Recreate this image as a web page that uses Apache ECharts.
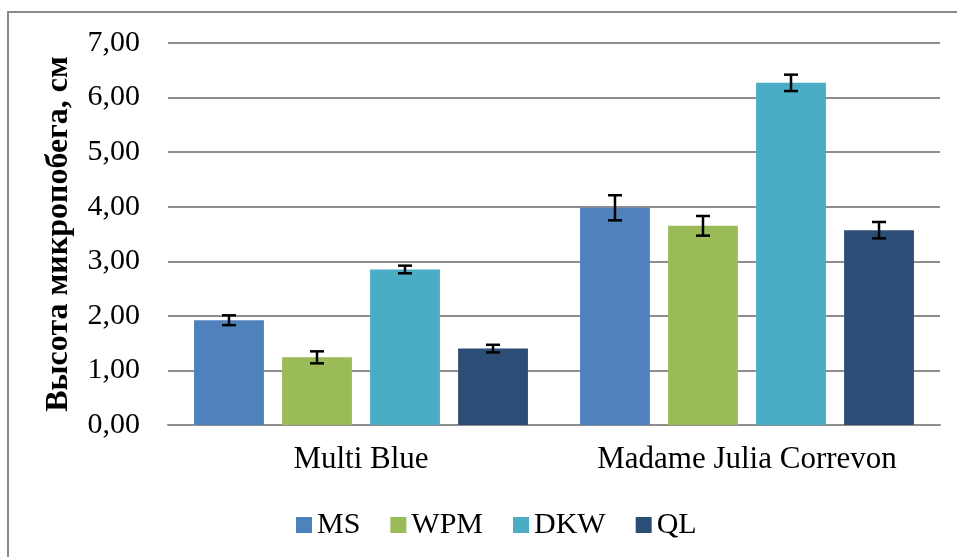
<!DOCTYPE html>
<html>
<head>
<meta charset="utf-8">
<script src="https://cdn.jsdelivr.net/npm/echarts@6/dist/echarts.min.js"></script>
<style>
html,body{margin:0;padding:0;background:#fff;}
#c{width:957px;height:557px;}
</style>
</head>
<body>
<div id="c"></div>
<script>
var categories = ['Multi Blue', 'Madame Julia Correvon'];
var seriesNames = ['MS', 'WPM', 'DKW', 'QL'];
var MS = [1.92, 3.98];
var WPM = [1.24, 3.65];
var DKW = [2.85, 6.27];
var QL = [1.40, 3.57];
var MS_err = [0.09, 0.23];
var WPM_err = [0.11, 0.18];
var DKW_err = [0.07, 0.15];
var QL_err = [0.07, 0.15];
var yTicks = [0, 1, 2, 3, 4, 5, 6, 7];
var colors = ['#4F81BD', '#9BBB59', '#4BACC6', '#2C4D75'];

var values = [MS, WPM, DKW, QL];
var errs = [MS_err, WPM_err, DKW_err, QL_err];
var CAT_GAP = 0.135, BAR_GAP = 0.26;
var FONT = 'Liberation Serif';

var errData = [];
for (var s = 0; s < values.length; s++) {
  for (var c = 0; c < categories.length; c++) {
    errData.push([c, s, values[s][c] - errs[s][c], values[s][c] + errs[s][c]]);
  }
}

var series = seriesNames.map(function (n, i) {
  return {
    name: n, type: 'bar', data: values[i],
    itemStyle: { color: colors[i] },
    barCategoryGap: (CAT_GAP * 100) + '%',
    barGap: (BAR_GAP * 100) + '%'
  };
});
series.push({
  type: 'custom',
  data: errData,
  encode: { x: 0, y: [2, 3] },
  z: 10,
  renderItem: function (params, api) {
    var cat = api.value(0), si = api.value(1), lo = api.value(2), hi = api.value(3);
    var band = api.size([1, 0])[0];
    var n = seriesNames.length;
    var bw = band * (1 - CAT_GAP) / (n + (n - 1) * BAR_GAP);
    var total = n * bw + (n - 1) * BAR_GAP * bw;
    var center = api.coord([cat, 0])[0];
    var x = center - total / 2 + si * bw * (1 + BAR_GAP) + bw / 2;
    var yH = api.coord([cat, hi])[1];
    var yL = api.coord([cat, lo])[1];
    var cw = 7;
    var st = { stroke: '#000', lineWidth: 2.5 };
    return {
      type: 'group',
      children: [
        { type: 'line', shape: { x1: x, y1: yH, x2: x, y2: yL }, style: st },
        { type: 'line', shape: { x1: x - cw, y1: yH, x2: x + cw, y2: yH }, style: st },
        { type: 'line', shape: { x1: x - cw, y1: yL, x2: x + cw, y2: yL }, style: st }
      ]
    };
  }
});

var chart = echarts.init(document.getElementById('c'), null, { renderer: 'canvas' });
chart.setOption({
  animation: false,
  backgroundColor: '#fff',
  grid: { left: 168, right: 17, top: 43, bottom: 132 },
  legend: {
    data: seriesNames,
    left: 291, top: 505,
    icon: 'rect', itemWidth: 16, itemHeight: 16, itemGap: 30,
    textStyle: { fontSize: 30, fontFamily: FONT, color: '#000' }
  },
  xAxis: {
    type: 'category', data: categories,
    axisTick: { show: false },
    axisLine: { lineStyle: { color: '#8e8e8e', width: 2 } },
    axisLabel: { interval: 0, hideOverlap: false, fontSize: 31, fontFamily: FONT, color: '#000', margin: 19 }
  },
  yAxis: {
    type: 'value', min: yTicks[0], max: yTicks[yTicks.length - 1], interval: 1,
    name: 'Высота микропобега, см',
    nameLocation: 'middle', nameGap: 93, nameRotate: 90,
    nameTextStyle: { fontSize: 32, fontWeight: 'bold', fontFamily: FONT, color: '#000' },
    axisLine: { show: false }, axisTick: { show: false },
    splitLine: { lineStyle: { color: '#8e8e8e', width: 2 } },
    axisLabel: {
      fontSize: 30, fontFamily: FONT, color: '#000', margin: 28,
      formatter: function (v) { return v.toFixed(2).replace('.', ','); }
    }
  },
  graphic: [
    { type: 'rect', shape: { x: 8, y: 12, width: 1000, height: 600 },
      style: { fill: null, stroke: '#8a8a8a', lineWidth: 2 }, silent: true },
    { type: 'text', left: -6, top: -23,
      style: { text: 'итками.', font: 'bold 30px "Liberation Serif"', fill: '#000' } }
  ],
  series: series
});
</script>
</body>
</html>
